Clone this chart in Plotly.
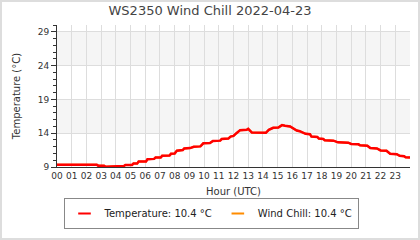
import plotly.graph_objects as go

# ---- data ----
hours = [0, 2.7, 2.8, 3.2, 3.3, 3.85, 3.9, 4.0, 4.1, 4.55, 4.65, 5.1, 5.2, 5.45, 5.55,
         6.05, 6.15, 6.6, 6.7, 7.05, 7.15, 7.65, 7.75, 8.0, 8.15, 8.55, 8.65, 9.05,
         9.3, 9.75, 9.95, 10.4, 10.6, 11.1, 11.2, 11.65, 11.8, 12.0, 12.2, 12.45,
         12.9, 13.0, 13.25, 13.6, 13.7, 14.2, 14.4, 14.7, 15.05, 15.3, 15.5, 15.85,
         16.3, 16.5, 16.9, 17.2, 17.3, 17.7, 17.8, 18.1, 18.2, 18.8, 19.1, 19.8,
         20.0, 20.5, 20.6, 21.1, 21.3, 21.75, 22.0, 22.4, 22.65, 23.1, 23.3, 23.6,
         23.7, 24.0]
temperature = [9.35, 9.35, 9.2, 9.2, 9.05, 9.05, 9.15, 9.05, 9.15, 9.15, 9.3, 9.3, 9.5,
               9.5, 9.8, 9.8, 10.15, 10.2, 10.4, 10.4, 10.65, 10.7, 10.95, 11.0, 11.4,
               11.5, 11.75, 11.8, 12.0, 12.05, 12.5, 12.55, 12.85, 12.9, 13.15, 13.2,
               13.5, 13.6, 14.0, 14.45, 14.5, 14.65, 14.1, 14.1, 14.0, 14.05, 14.5, 14.8,
               14.85, 15.2, 15.1, 15.0, 14.4, 14.3, 13.9, 13.85, 13.5, 13.45, 13.2, 13.15,
               12.95, 12.9, 12.65, 12.6, 12.4, 12.35, 12.2, 12.15, 11.8, 11.75, 11.45,
               11.4, 10.95, 10.9, 10.65, 10.6, 10.45, 10.4]
wind_chill = list(temperature)

hour_ticks = list(range(24))
hour_labels = [f"{h:02d}" for h in hour_ticks]
y_ticks = [9, 14, 19, 24, 29]
bands = [(14, 19), (24, 29)]

title = "WS2350 Wind Chill 2022-04-23"
temp_name = f"Temperature: {temperature[-1]:.1f} °C"
wc_name = f"Wind Chill: {wind_chill[-1]:.1f} °C"

# ---- layout constants ----
W, H = 420, 240
ML, MR, MT, MB = 57, 10, 25, 73
PW, PH = W - ML - MR, H - MT - MB
FONT = "DejaVu Sans"

fig = go.Figure()
fig.add_trace(go.Scatter(x=hours, y=wind_chill, mode="lines", name=wc_name,
                         line=dict(color="#ff8c00", width=2), showlegend=False))
fig.add_trace(go.Scatter(x=hours, y=temperature, mode="lines", name=temp_name,
                         line=dict(color="#ff0000", width=2.5), showlegend=False))
# legend entries with short line glyphs
fig.add_trace(go.Scatter(x=[None], y=[None], mode="markers", name=temp_name,
                         marker=dict(symbol="line-ew", size=9,
                                     line=dict(color="#ff0000", width=2))))
fig.add_trace(go.Scatter(x=[None], y=[None], mode="markers", name=wc_name,
                         marker=dict(symbol="line-ew", size=9,
                                     line=dict(color="#ff8c00", width=2))))

for lo, hi in bands:
    fig.add_shape(type="rect", xref="x", yref="y", x0=0, x1=24, y0=lo, y1=hi,
                  fillcolor="#f5f5f5", line_width=0, layer="below")

# outer border of the image
fig.add_shape(type="rect", xref="paper", yref="paper",
              x0=(1 - ML) / PW, x1=(W - 1 - ML) / PW,
              y0=-(MB - 1) / PH, y1=(PH + MT - 1) / PH,
              line=dict(color="#dddddd", width=2), fillcolor="rgba(0,0,0,0)")

fig.update_layout(
    width=W, height=H,
    margin=dict(l=ML, r=MR, t=MT, b=MB, pad=0),
    paper_bgcolor="white", plot_bgcolor="white",
    font=dict(family=FONT, size=10, color="#444"),
    title=dict(text=title, x=0.5, xanchor="center", y=1 - 10 / H, yanchor="middle",
               font=dict(size=13, color="#444", family=FONT)),
    showlegend=True,
    legend=dict(orientation="h", x=(211 - ML) / PW, xanchor="center",
                y=-(213.5 - MT - PH) / PH, yanchor="middle",
                bordercolor="#888", borderwidth=1, font=dict(size=10, color="#222"),
                itemwidth=30),
    xaxis=dict(range=[0, 24], tickvals=hour_ticks, ticktext=hour_labels,
               showgrid=True, gridcolor="#dddddd", gridwidth=1,
               showline=True, linecolor="#333", linewidth=1, ticks="",
               tickfont=dict(size=9, color="#333"), zeroline=False,
               title=dict(text="Hour (UTC)", font=dict(size=10, color="#333"), standoff=8)),
    yaxis=dict(range=[9, 30], tickvals=y_ticks, showgrid=True, gridcolor="#dddddd",
               gridwidth=1, showline=True, linecolor="#333", linewidth=1,
               ticks="outside", ticklen=5, tickcolor="#333",
               minor=dict(dtick=1, ticks="outside", ticklen=3, tickcolor="#333", showgrid=False),
               tickfont=dict(size=9, color="#333"), zeroline=False,
               title=dict(text="Temperature (°C)", font=dict(size=10, color="#333"), standoff=15)),
)

fig.write_html("out.html")
